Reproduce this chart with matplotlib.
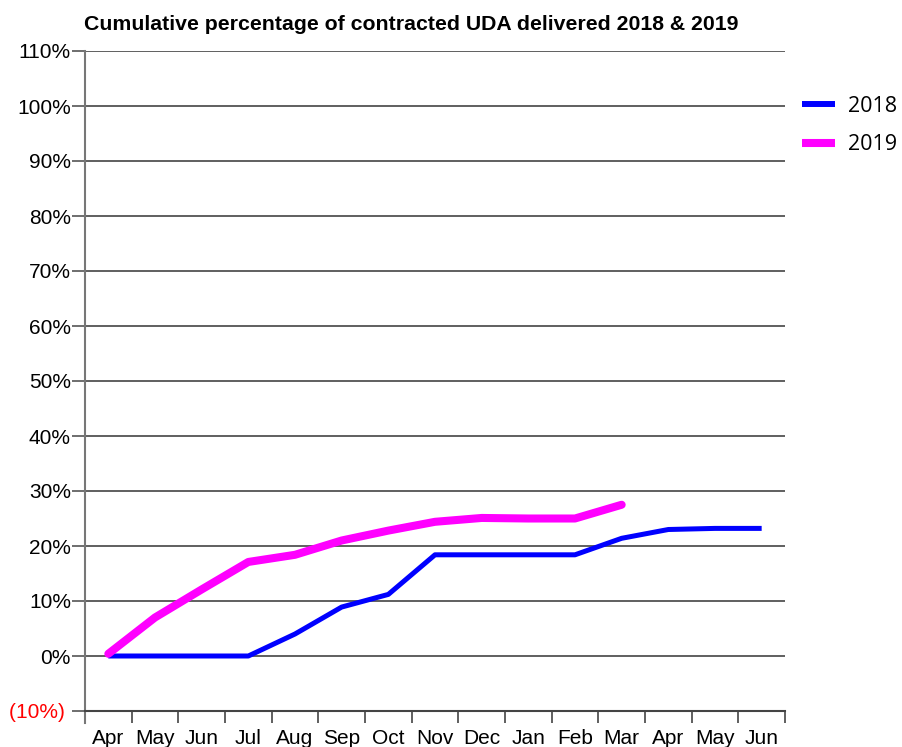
import numpy as np
import matplotlib.pyplot as plt
from matplotlib.ticker import FixedLocator, NullFormatter

plt.rcParams['font.family'] = ['Liberation Sans', 'DejaVu Sans']

months = ['Apr', 'May', 'Jun', 'Jul', 'Aug', 'Sep', 'Oct', 'Nov', 'Dec',
          'Jan', 'Feb', 'Mar', 'Apr', 'May', 'Jun']
# cumulative % of contracted UDA delivered
uda_2018 = [0.0, 0.0, 0.0, 0.0, 4.0, 8.9, 11.2, 18.4, 18.4, 18.4, 18.4, 21.4, 23.0, 23.2, 23.2]
uda_2019 = [0.4, 7.0, 12.1, 17.1, 18.4, 21.0, 22.8, 24.4, 25.1, 25.0, 25.0, 27.5]
y_ticks = list(range(-10, 111, 10))

fig = plt.figure(figsize=(9.03, 7.47), dpi=100)
ax = fig.add_axes([85 / 903, 1 - 711 / 747, 700 / 903, 660 / 747])

x18 = np.arange(len(uda_2018))
x19 = np.arange(len(uda_2019))
ax.plot(x18, uda_2018, color='#0000ff', lw=3.6, solid_capstyle='butt',
        solid_joinstyle='round', label='2018', zorder=3)
ax.plot(x19, uda_2019, color='#ff00ff', lw=5.8, solid_capstyle='round',
        solid_joinstyle='round', label='2019', zorder=4)

ax.set_xlim(-0.5, len(months) - 0.5)
ax.set_ylim(-10, 110)

# y axis, negatives in red brackets
ax.set_yticks(y_ticks)
ax.set_yticklabels(['({}%) '.format(-v) if v < 0 else '{}%'.format(v) for v in y_ticks])
for lab, v in zip(ax.get_yticklabels(), y_ticks):
    if v < 0:
        lab.set_color('red')
ax.grid(axis='y', color='#444444', lw=1.2)
ax.tick_params(axis='y', length=9.4, width=1.2, color='#555555', labelsize=15, pad=0.7)

# x axis: ticks at boundaries, labels in centres
ax.xaxis.set_major_locator(FixedLocator(np.arange(len(months))))
ax.set_xticklabels(months)
ax.xaxis.set_minor_locator(FixedLocator(np.arange(len(months) + 1) - 0.5))
ax.xaxis.set_minor_formatter(NullFormatter())
ax.tick_params(axis='x', which='major', length=0, labelsize=15, pad=13)
ax.tick_params(axis='x', which='minor', length=8.6, width=1.2, color='#444444')

for s in ['top', 'right']:
    ax.spines[s].set_visible(False)
ax.spines['left'].set_color('#777777')
ax.spines['left'].set_linewidth(1.5)
ax.spines['left'].set_bounds(-12.2, 110)
ax.spines['bottom'].set_color('#444444')
ax.spines['bottom'].set_linewidth(1.5)

ax.set_axisbelow(True)

fig.text(411 / 903, 1 - 25 / 747, 'Cumulative percentage of contracted UDA delivered 2018 & 2019',
         ha='center', va='center', fontsize=15.3, fontweight='bold')

leg = ax.legend(loc='upper left', bbox_to_anchor=(802 / 903, 1 - 96 / 747),
                bbox_transform=fig.transFigure, frameon=False,
                borderpad=0, borderaxespad=0,
                handlelength=1.55, handletextpad=0.6, labelspacing=0.8,
                prop={'family': ['Open Sans', 'DejaVu Sans'], 'size': 15.5})
leg.get_lines()[0].set_linewidth(4.3)
leg.get_lines()[1].set_linewidth(5.8)
leg.get_lines()[0].set_solid_capstyle('butt')
leg.get_lines()[1].set_solid_capstyle('butt')

fig.savefig('out.png', dpi=100)
